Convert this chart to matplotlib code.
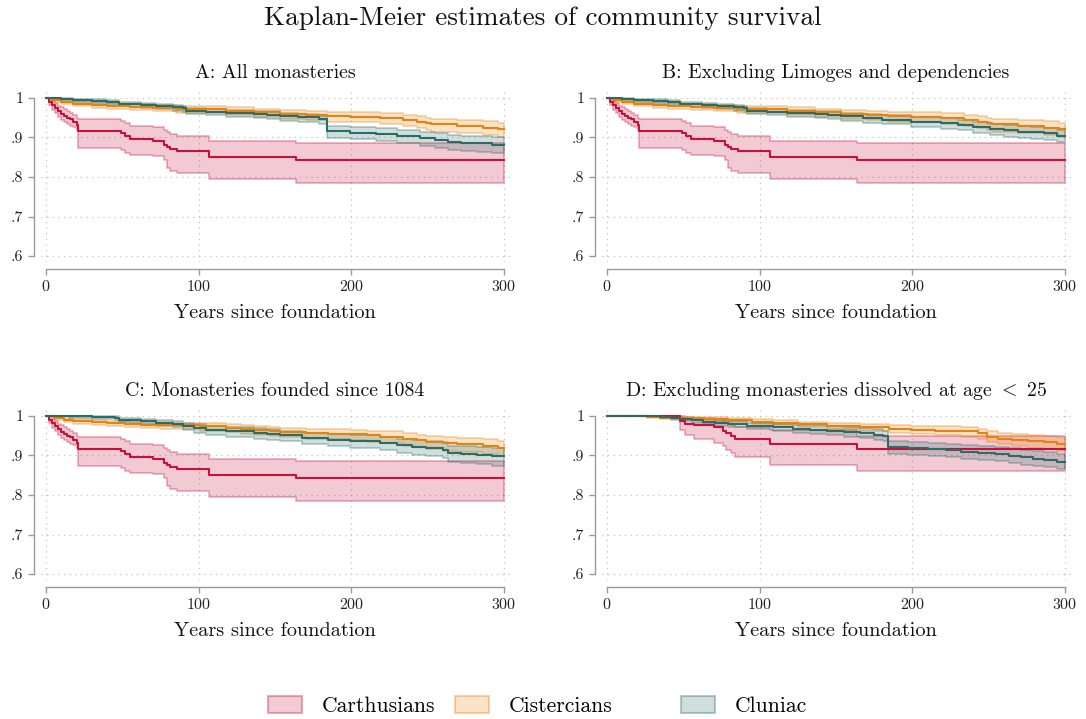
import numpy as np
import matplotlib
matplotlib.use("Agg")
import matplotlib.pyplot as plt
from matplotlib.patches import Patch
from matplotlib.colors import to_rgba

plt.rcParams["font.family"] = ["cmr10", "DejaVu Serif"]
plt.rcParams["mathtext.fontset"] = "cm"
plt.rcParams["axes.unicode_minus"] = False
plt.rcParams["axes.formatter.use_mathtext"] = True

# ---------------------------------------------------------------
# Kaplan-Meier step estimates: event times, survival, lower/upper CI
# ---------------------------------------------------------------
FOLLOW_UP_END = 300

# Carthusians (panels A, B, C)
carth_t = [0, 2, 4, 6, 8, 10, 12, 14, 16, 18, 20, 21, 49, 52, 55, 70, 77, 79, 81, 86, 107, 164]
carth_s = [1, .991, .982, .975, .968, .959, .954, .950, .946, .940, .932, .917, .911, .905, .896, .891, .881, .875, .870, .865, .851, .842]
carth_lo = [1, .982, .970, .961, .952, .944, .938, .934, .930, .926, .919, .873, .869, .862, .856, .852, .843, .822, .816, .811, .794, .784]
carth_hi = [1, .997, .993, .988, .981, .976, .971, .968, .963, .958, .949, .946, .943, .937, .929, .927, .918, .913, .908, .903, .891, .885]

# Carthusians (panel D)
carth_d_t = [0, 48, 51, 57, 70, 76, 78, 81, 84, 107, 164]
carth_d_s = [1, .988, .981, .977, .971, .963, .956, .949, .941, .929, .917]
carth_d_lo = [1, .965, .952, .941, .932, .923, .914, .906, .895, .876, .862]
carth_d_hi = [1, 1.0, .998, .996, .993, .988, .983, .978, .972, .964, .950]

# Cistercians (panels A, B)
cist_t = [0, 4, 10, 18, 30, 40, 55, 70, 85, 101, 118, 136, 153, 170, 184, 199, 219, 234, 243, 249, 252, 269, 286, 296]
cist_s = [1, .996, .991, .986, .982, .980, .977, .975, .973, .971, .968, .964, .960, .957, .954, .953, .949, .944, .940, .936, .933, .929, .925, .921]
cist_lo = [1, .991, .985, .979, .975, .972, .969, .966, .963, .961, .957, .952, .948, .944, .940, .938, .934, .928, .923, .919, .915, .911, .906, .902]
cist_hi = [1, .999, .995, .991, .988, .986, .984, .982, .980, .979, .977, .973, .970, .968, .965, .964, .961, .957, .954, .950, .948, .944, .941, .937]

# Cistercians (panel C)
cist_c_t = [0, 5, 12, 18, 30, 40, 52, 62, 75, 83, 101, 118, 128, 136, 147, 153, 170, 185, 199, 210, 219, 234, 243, 249, 260, 269, 286, 296]
cist_c_s = [1, .995, .991, .988, .984, .982, .980, .978, .977, .976, .974, .970, .967, .965, .963, .959, .957, .955, .954, .951, .948, .942, .939, .935, .931, .929, .925, .919]
cist_c_lo = [1, .990, .985, .981, .977, .974, .972, .969, .968, .966, .963, .959, .955, .953, .950, .946, .943, .941, .939, .935, .932, .925, .921, .917, .912, .910, .905, .899]
cist_c_hi = [1, .998, .995, .993, .990, .988, .987, .985, .984, .983, .982, .979, .977, .975, .973, .970, .968, .966, .965, .963, .961, .956, .953, .950, .947, .945, .942, .937]

# Cistercians (panel D)
cist_d_t = [0, 26, 35, 48, 62, 79, 95, 109, 125, 144, 166, 185, 199, 215, 232, 243, 249, 256, 265, 276, 286, 295]
cist_d_s = [1, .998, .996, .994, .992, .990, .986, .983, .979, .975, .971, .968, .965, .963, .961, .956, .948, .943, .939, .936, .933, .929]
cist_d_lo = [1, .995, .992, .989, .986, .984, .979, .976, .971, .966, .961, .957, .954, .951, .948, .942, .933, .928, .923, .920, .916, .911]
cist_d_hi = [1, 1.0, .999, .998, .997, .995, .992, .989, .986, .983, .980, .978, .975, .974, .972, .968, .961, .957, .954, .951, .949, .946]

# Cluniac (panel A)
clun_a_t = [0, 10, 18, 30, 40, 48, 55, 62, 72, 83, 90, 92, 105, 118, 136, 145, 153, 165, 179, 184, 199, 216, 230, 245, 255, 263, 272, 282, 292]
clun_a_s = [1, .998, .995, .993, .991, .986, .984, .982, .979, .976, .974, .968, .965, .963, .960, .958, .954, .951, .946, .917, .912, .909, .904, .898, .894, .889, .887, .885, .881]
clun_a_lo = [1, .995, .991, .988, .985, .980, .977, .975, .971, .968, .965, .959, .956, .953, .950, .947, .943, .939, .934, .900, .895, .891, .885, .878, .874, .868, .866, .863, .860]
clun_a_hi = [1, 1.0, .998, .997, .995, .991, .989, .987, .985, .982, .980, .975, .972, .970, .968, .966, .963, .960, .955, .930, .926, .923, .919, .914, .911, .907, .905, .903, .901]

# Cluniac (panel B)
clun_b_t = [0, 10, 18, 30, 40, 48, 55, 62, 72, 83, 90, 92, 105, 118, 136, 145, 153, 168, 180, 199, 219, 230, 240, 251, 260, 269, 278, 286, 295]
clun_b_s = [1, .998, .995, .993, .991, .986, .984, .982, .979, .976, .974, .968, .965, .963, .960, .958, .954, .949, .945, .940, .936, .932, .927, .921, .918, .915, .913, .911, .905]
clun_b_lo = [1, .995, .991, .988, .985, .980, .977, .975, .971, .968, .965, .959, .956, .953, .950, .947, .943, .937, .933, .927, .922, .918, .912, .906, .902, .899, .896, .893, .888]
clun_b_hi = [1, 1.0, .998, .997, .995, .991, .989, .987, .985, .982, .980, .975, .972, .970, .968, .966, .963, .959, .956, .952, .949, .945, .940, .935, .932, .929, .927, .925, .920]

# Cluniac (panel C)
clun_c_t = [0, 15, 30, 45, 48, 55, 62, 72, 83, 90, 97, 105, 118, 136, 145, 153, 168, 185, 199, 219, 230, 240, 249, 260, 263, 272, 282, 292]
clun_c_s = [1, .999, .997, .995, .991, .989, .987, .983, .980, .974, .969, .965, .961, .957, .954, .951, .944, .940, .936, .932, .926, .922, .919, .915, .906, .904, .902, .898]
clun_c_lo = [1, .996, .993, .990, .985, .982, .980, .975, .971, .964, .958, .953, .948, .943, .940, .936, .928, .923, .919, .914, .907, .902, .899, .894, .884, .881, .878, .873]
clun_c_hi = [1, 1.0, 1.0, .999, .996, .994, .993, .990, .987, .983, .979, .975, .972, .969, .966, .963, .958, .955, .951, .948, .943, .939, .936, .933, .925, .924, .922, .920]

# Cluniac (panel D)
clun_d_t = [0, 26, 35, 42, 48, 56, 63, 71, 79, 92, 109, 122, 133, 144, 155, 166, 175, 181, 184, 197, 210, 222, 232, 243, 254, 263, 271, 279, 286, 295]
clun_d_s = [1, .999, .998, .995, .992, .989, .986, .983, .980, .975, .971, .968, .965, .963, .960, .958, .953, .949, .921, .918, .916, .913, .910, .907, .904, .899, .895, .892, .889, .884]
clun_d_lo = [1, .997, .995, .991, .987, .983, .979, .975, .972, .966, .961, .957, .954, .951, .948, .945, .940, .936, .905, .902, .899, .896, .892, .889, .885, .880, .876, .873, .870, .865]
clun_d_hi = [1, 1.0, 1.0, .998, .996, .994, .992, .990, .987, .983, .980, .978, .976, .974, .972, .970, .966, .962, .936, .934, .932, .929, .927, .925, .922, .918, .914, .911, .909, .904]

panel_titles = [
    "A: All monasteries",
    "B: Excluding Limoges and dependencies",
    "C: Monasteries founded since 1084",
    r"D: Excluding monasteries dissolved at age $<$ 25",
]
orders = ["Carthusians", "Cistercians", "Cluniac"]
x_ticks = [0, 100, 200, 300]
y_ticks = [.6, .7, .8, .9, 1]
y_tick_labels = [".6", ".7", ".8", ".9", "1"]

colors = {"Carthusians": "#C8103A", "Cistercians": "#E8820C", "Cluniac": "#2B6C66"}

panels = [
    {"Carthusians": (carth_t, carth_s, carth_lo, carth_hi),
     "Cistercians": (cist_t, cist_s, cist_lo, cist_hi),
     "Cluniac": (clun_a_t, clun_a_s, clun_a_lo, clun_a_hi)},
    {"Carthusians": (carth_t, carth_s, carth_lo, carth_hi),
     "Cistercians": (cist_t, cist_s, cist_lo, cist_hi),
     "Cluniac": (clun_b_t, clun_b_s, clun_b_lo, clun_b_hi)},
    {"Carthusians": (carth_t, carth_s, carth_lo, carth_hi),
     "Cistercians": (cist_c_t, cist_c_s, cist_c_lo, cist_c_hi),
     "Cluniac": (clun_c_t, clun_c_s, clun_c_lo, clun_c_hi)},
    {"Carthusians": (carth_d_t, carth_d_s, carth_d_lo, carth_d_hi),
     "Cistercians": (cist_d_t, cist_d_s, cist_d_lo, cist_d_hi),
     "Cluniac": (clun_d_t, clun_d_s, clun_d_lo, clun_d_hi)},
]

W, H = 1086, 719
fig = plt.figure(figsize=(W / 100, H / 100), dpi=100)

# axes boxes in pixels: left, top, right, bottom
boxes = [(40.5, 89, 509.5, 262), (601.5, 89, 1070.5, 262),
         (40.5, 407, 509.5, 580), (601.5, 407, 1070.5, 580)]

FILL_A, EDGE_A = 0.22, 0.35
SPINE = "#9a9a9a"


def extend(vals):
    return np.append(np.asarray(vals, float), vals[-1])


for box, data, title in zip(boxes, panels, panel_titles):
    l, t, r, b = box
    ax = fig.add_axes([l / W, 1 - b / H, (r - l) / W, (b - t) / H])
    ax.set_xlim(-3.6, 303.6)
    ax.set_ylim(0.6 - 6 / 395, 1 + 9 / 395)

    for name in orders:
        tt, ss, lo, hi = data[name]
        te = np.append(np.asarray(tt, float), FOLLOW_UP_END)
        ax.fill_between(te, extend(lo), extend(hi), step="post",
                        facecolor=to_rgba(colors[name], FILL_A),
                        edgecolor=to_rgba(colors[name], EDGE_A),
                        linewidth=1.2, zorder=2)
    for name in orders:
        tt, ss, lo, hi = data[name]
        te = np.append(np.asarray(tt, float), FOLLOW_UP_END)
        ax.step(te, extend(ss), where="post", color=colors[name],
                linewidth=1.5, zorder=3)

    ax.set_xticks(x_ticks)
    ax.set_yticks(y_ticks)
    ax.set_yticklabels(y_tick_labels)
    ax.grid(True, color="#c4c4c4", linestyle=(0, (1, 3.5)), linewidth=0.9)
    ax.set_axisbelow(True)

    for side in ("top", "right"):
        ax.spines[side].set_visible(False)
    for side in ("left", "bottom"):
        ax.spines[side].set_color(SPINE)
        ax.spines[side].set_linewidth(1.0)
        ax.spines[side].set_position(("outward", 4.8))
    ax.spines["left"].set_bounds(0.6, 1)
    ax.spines["bottom"].set_bounds(0, 300)
    ax.tick_params(axis="both", direction="out", color=SPINE, width=1.0,
                   length=4.5, labelsize=11.5, labelcolor="#222222", pad=3)

    ax.set_title(title, fontsize=14.3, pad=8, color="#111111")
    ax.set_xlabel("Years since foundation", fontsize=14.6, labelpad=7,
                  color="#111111")

fig.text(0.5, 1 - 18 / H, "Kaplan-Meier estimates of community survival",
         ha="center", va="center", fontsize=19.6, color="#111111")

# legend: one entry per order, placed along the bottom edge
legend_x = [268, 455, 681]
for name, x in zip(orders, legend_x):
    handle = Patch(facecolor=to_rgba(colors[name], FILL_A),
                   edgecolor=to_rgba(colors[name], EDGE_A), linewidth=1.5)
    fig.legend(handles=[handle], labels=[name], loc="center left",
               bbox_to_anchor=(x / W, 1 - 706 / H), frameon=False,
               fontsize=15.5, handlelength=1.6, handleheight=0.8,
               handletextpad=0.9, borderpad=0, borderaxespad=0)

fig.savefig("out.png", dpi=100)
